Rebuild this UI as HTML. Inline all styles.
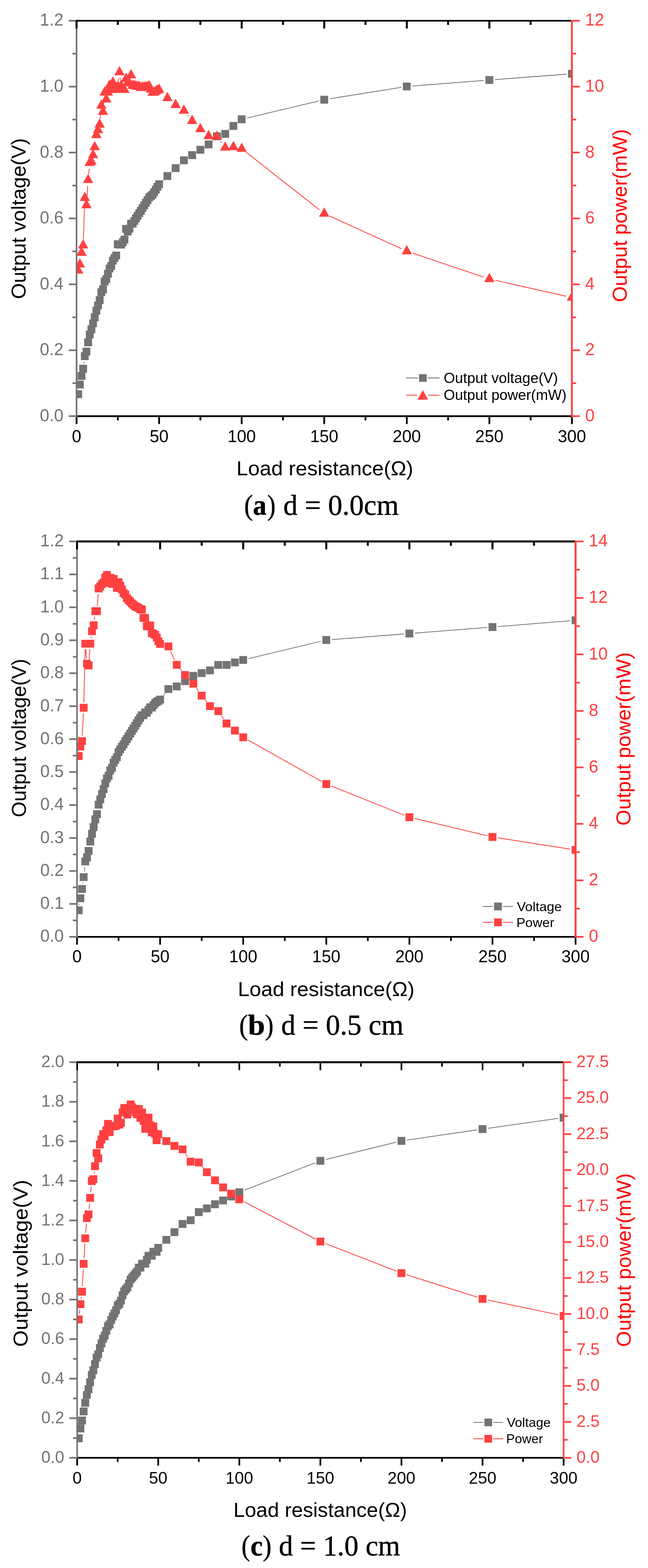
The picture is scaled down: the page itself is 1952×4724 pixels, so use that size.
<!DOCTYPE html>
<html><head><meta charset="utf-8"><title>Figure</title>
<style>html,body{margin:0;padding:0;background:#fff;}svg{display:block;}</style></head>
<body><svg width="1952" height="4724" viewBox="0 0 1952 4724" font-family="Liberation Sans, Arial, sans-serif">
<rect width="1952" height="4724" fill="#fff"/>
<clipPath id="clipa"><rect x="230.6" y="22.5" width="1492.2" height="1271.3"/></clipPath><g clip-path="url(#clipa)">
<path d="M252.7 1094.5L253.3 1089.5M352.4 753.5L352.6 752.2M491.0 543.4L492.4 542.0M516.1 518.9L517.1 517.9M541.1 495.1L541.9 494.3M640.3 423.5L641.6 422.2M690.1 391.9L691.3 390.8M744.1 355.6L960.6 304.2M993.0 297.7L1209.1 263.1M1241.8 259.2L1457.7 242.3M1490.6 239.8L1706.3 223.5" stroke="#737373" stroke-width="2.3" fill="none"/>
<path d="M223.8 1176.0h23.6v23.6h-23.6zM228.7 1146.7h23.6v23.6h-23.6zM233.7 1120.9h23.6v23.6h-23.6zM238.7 1099.0h23.6v23.6h-23.6zM243.7 1061.3h23.6v23.6h-23.6zM248.6 1047.4h23.6v23.6h-23.6zM253.6 1019.6h23.6v23.6h-23.6zM258.6 995.8h23.6v23.6h-23.6zM263.6 980.2h23.6v23.6h-23.6zM268.5 962.5h23.6v23.6h-23.6zM273.5 944.5h23.6v23.6h-23.6zM278.5 924.3h23.6v23.6h-23.6zM283.5 908.4h23.6v23.6h-23.6zM288.4 892.6h23.6v23.6h-23.6zM293.4 868.7h23.6v23.6h-23.6zM298.4 860.3h23.6v23.6h-23.6zM303.4 836.3h23.6v23.6h-23.6zM308.3 829.0h23.6v23.6h-23.6zM313.3 813.1h23.6v23.6h-23.6zM318.3 797.2h23.6v23.6h-23.6zM323.3 789.3h23.6v23.6h-23.6zM328.2 773.4h23.6v23.6h-23.6zM333.2 765.5h23.6v23.6h-23.6zM338.2 758.0h23.6v23.6h-23.6zM343.1 724.1h23.6v23.6h-23.6zM348.1 724.8h23.6v23.6h-23.6zM353.1 725.2h23.6v23.6h-23.6zM358.1 718.1h23.6v23.6h-23.6zM363.0 710.0h23.6v23.6h-23.6zM368.0 678.0h23.6v23.6h-23.6zM373.0 686.0h23.6v23.6h-23.6zM378.0 677.5h23.6v23.6h-23.6zM382.9 661.9h23.6v23.6h-23.6zM387.9 662.1h23.6v23.6h-23.6zM392.9 654.0h23.6v23.6h-23.6zM397.9 646.1h23.6v23.6h-23.6zM402.8 638.2h23.6v23.6h-23.6zM407.8 630.1h23.6v23.6h-23.6zM412.8 623.2h23.6v23.6h-23.6zM417.8 614.9h23.6v23.6h-23.6zM422.7 607.0h23.6v23.6h-23.6zM427.7 599.1h23.6v23.6h-23.6zM432.7 591.2h23.6v23.6h-23.6zM437.7 583.0h23.6v23.6h-23.6zM442.6 578.8h23.6v23.6h-23.6zM447.6 574.9h23.6v23.6h-23.6zM452.6 567.5h23.6v23.6h-23.6zM457.6 559.3h23.6v23.6h-23.6zM462.5 551.0h23.6v23.6h-23.6zM467.5 543.2h23.6v23.6h-23.6zM492.4 518.6h23.6v23.6h-23.6zM517.2 494.7h23.6v23.6h-23.6zM542.1 471.2h23.6v23.6h-23.6zM567.0 455.6h23.6v23.6h-23.6zM591.9 439.5h23.6v23.6h-23.6zM616.7 423.3h23.6v23.6h-23.6zM641.6 398.9h23.6v23.6h-23.6zM666.5 391.6h23.6v23.6h-23.6zM691.3 367.6h23.6v23.6h-23.6zM716.2 347.6h23.6v23.6h-23.6zM964.9 288.6h23.6v23.6h-23.6zM1213.6 248.7h23.6v23.6h-23.6zM1462.3 229.2h23.6v23.6h-23.6zM1711.0 210.4h23.6v23.6h-23.6z" fill="#737373"/>
<path d="M251.1 721.2L254.8 614.1M261.6 600.2L264.2 560.2M267.1 524.3L268.7 508.5M301.8 357.3L303.6 336.1M311.7 318.6L313.6 296.3M357.0 243.2L357.9 235.2M362.1 235.2L362.7 239.4M565.2 347.2L567.5 350.0M664.2 425.7L667.4 430.0M742.2 459.2L962.5 632.2M993.1 650.8L1209.0 749.4M1242.5 762.6L1457.0 834.8M1491.7 844.4L1705.2 892.5" stroke="#FF4040" stroke-width="2.4" fill="none"/>
<path d="M235.6 796.3L251.2 824.2L220.0 824.2zM240.5 777.8L256.1 805.7L224.9 805.7zM245.5 742.8L261.1 770.7L229.9 770.7zM250.5 720.7L266.1 748.6L234.9 748.6zM255.5 577.6L271.1 605.5L239.9 605.5zM260.4 599.7L276.0 627.6L244.8 627.6zM265.4 523.7L281.0 551.6L249.8 551.6zM270.4 472.1L286.0 500.0L254.8 500.0zM275.4 468.3L291.0 496.2L259.8 496.2zM280.3 448.6L295.9 476.5L264.7 476.5zM285.3 424.7L300.9 452.6L269.7 452.6zM290.3 388.2L305.9 416.1L274.7 416.1zM295.3 373.2L310.9 401.1L279.7 401.1zM300.2 356.7L315.8 384.6L284.6 384.6zM305.2 299.6L320.8 327.5L289.6 327.5zM310.2 318.0L325.8 345.9L294.6 345.9zM315.2 259.9L330.8 287.8L299.6 287.8zM320.1 280.8L335.7 308.7L304.5 308.7zM325.1 260.2L340.7 288.1L309.5 288.1zM330.1 239.1L345.7 267.0L314.5 267.0zM335.1 252.3L350.7 280.2L319.5 280.2zM340.0 230.0L355.6 257.9L324.4 257.9zM345.0 240.8L360.6 268.7L329.4 268.7zM350.0 252.2L365.6 280.1L334.4 280.1zM354.9 242.5L370.6 270.4L339.3 270.4zM359.9 198.9L375.5 226.8L344.3 226.8zM364.9 238.8L380.5 266.7L349.3 266.7zM369.9 248.0L385.5 275.9L354.3 275.9zM374.8 252.2L390.4 280.1L359.2 280.1zM379.8 218.7L395.4 246.6L364.2 246.6zM384.8 230.7L400.4 258.6L369.2 258.6zM389.8 232.3L405.4 260.2L374.2 260.2zM394.7 208.2L410.3 236.1L379.1 236.1zM399.7 239.1L415.3 267.0L384.1 267.0zM404.7 240.2L420.3 268.1L389.1 268.1zM409.7 241.6L425.3 269.5L394.1 269.5zM414.6 242.8L430.2 270.7L399.0 270.7zM419.6 242.7L435.2 270.6L404.0 270.6zM424.6 246.4L440.2 274.3L409.0 274.3zM429.6 244.9L445.2 272.8L414.0 272.8zM434.5 244.8L450.1 272.7L418.9 272.7zM439.5 244.0L455.1 271.9L423.9 271.9zM444.5 243.0L460.1 270.9L428.9 270.9zM449.5 241.1L465.1 269.0L433.9 269.0zM454.4 250.9L470.0 278.8L438.8 278.8zM459.4 260.7L475.0 288.6L443.8 288.6zM464.4 260.3L480.0 288.2L448.8 288.2zM469.4 257.2L485.0 285.1L453.8 285.1zM474.3 253.9L489.9 281.8L458.7 281.8zM479.3 251.5L494.9 279.4L463.7 279.4zM504.2 276.8L519.8 304.7L488.6 304.7zM529.0 297.6L544.6 325.5L513.4 325.5zM553.9 314.6L569.5 342.5L538.3 342.5zM578.8 345.5L594.4 373.4L563.2 373.4zM603.6 370.3L619.2 398.2L588.0 398.2zM628.5 391.3L644.1 419.2L612.9 419.2zM653.4 392.9L669.0 420.8L637.8 420.8zM678.3 425.9L693.9 453.8L662.7 453.8zM703.1 424.6L718.7 452.5L687.5 452.5zM728.0 429.6L743.6 457.5L712.4 457.5zM976.7 624.8L992.3 652.7L961.1 652.7zM1225.4 738.3L1241.0 766.2L1209.8 766.2zM1474.1 822.0L1489.7 849.9L1458.5 849.9zM1722.8 878.0L1738.4 905.9L1707.2 905.9z" fill="#FF4040"/>
</g>
<path d="M228.2 62.5H1722.8" stroke="#000" stroke-width="4.9"/>
<path d="M230.6 1253.8H1725.6" stroke="#000" stroke-width="5.3"/>
<path d="M230.6 65.0V1256.5" stroke="#737373" stroke-width="4.9"/>
<path d="M1722.8 60.0V1256.5" stroke="#FF4040" stroke-width="5.6"/>
<path d="M230.6 1256.5v21.0M354.9 1256.5v10.0M479.3 1256.5v21.0M603.6 1256.5v10.0M728.0 1256.5v21.0M852.4 1256.5v10.0M976.7 1256.5v21.0M1101.0 1256.5v10.0M1225.4 1256.5v21.0M1349.8 1256.5v10.0M1474.1 1256.5v21.0M1598.4 1256.5v10.0M1722.8 1256.5v21.0" stroke="#000" stroke-width="5.3"/>
<path d="M230.6 65.0v21.0M354.9 65.0v10.0M479.3 65.0v21.0M603.6 65.0v10.0M728.0 65.0v21.0M852.4 65.0v10.0M976.7 65.0v21.0M1101.0 65.0v10.0M1225.4 65.0v21.0M1349.8 65.0v10.0M1474.1 65.0v21.0M1598.4 65.0v10.0" stroke="#000" stroke-width="6"/>
<path d="M228.2 1253.8h-21.0M228.2 1154.5h-10.0M228.2 1055.2h-21.0M228.2 956.0h-10.0M228.2 856.7h-21.0M228.2 757.4h-10.0M228.2 658.1h-21.0M228.2 558.9h-10.0M228.2 459.6h-21.0M228.2 360.3h-10.0M228.2 261.0h-21.0M228.2 161.8h-10.0M228.2 62.5h-21.0" stroke="#737373" stroke-width="5"/>
<path d="M1725.6 1253.8h21.0M1725.6 1154.5h10.0M1725.6 1055.2h21.0M1725.6 956.0h10.0M1725.6 856.7h21.0M1725.6 757.4h10.0M1725.6 658.1h21.0M1725.6 558.9h10.0M1725.6 459.6h21.0M1725.6 360.3h10.0M1725.6 261.0h21.0M1725.6 161.8h10.0M1725.6 62.5h21.0" stroke="#FF4040" stroke-width="5"/>
<g font-size="51" fill="#000"><text x="230.6" y="1331.8" text-anchor="middle">0</text><text x="479.3" y="1331.8" text-anchor="middle">50</text><text x="728.0" y="1331.8" text-anchor="middle">100</text><text x="976.7" y="1331.8" text-anchor="middle">150</text><text x="1225.4" y="1331.8" text-anchor="middle">200</text><text x="1474.1" y="1331.8" text-anchor="middle">250</text><text x="1722.8" y="1331.8" text-anchor="middle">300</text></g>
<g font-size="51" fill="#737373"><text x="191.0" y="1268.7" text-anchor="end">0.0</text><text x="191.0" y="1070.2" text-anchor="end">0.2</text><text x="191.0" y="871.6" text-anchor="end">0.4</text><text x="191.0" y="673.0" text-anchor="end">0.6</text><text x="191.0" y="474.5" text-anchor="end">0.8</text><text x="191.0" y="275.9" text-anchor="end">1.0</text><text x="191.0" y="77.4" text-anchor="end">1.2</text></g>
<g font-size="51" fill="#FF4040"><text x="1762.8" y="1268.7">0</text><text x="1762.8" y="1070.2">2</text><text x="1762.8" y="871.6">4</text><text x="1762.8" y="673.0">6</text><text x="1762.8" y="474.5">8</text><text x="1762.8" y="275.9">10</text><text x="1762.8" y="77.4">12</text></g>
<text x="0" y="0" font-size="62" textLength="484.7" lengthAdjust="spacingAndGlyphs" fill="#000" transform="translate(76.8 900.9) rotate(-90)">Output voltage(V)</text>
<text x="0" y="0" font-size="62" textLength="521.6" lengthAdjust="spacingAndGlyphs" fill="#FF0000" transform="translate(1888.3 910.2) rotate(-90)">Output power(mW)</text>
<text x="712.3" y="1432.0" font-size="62" textLength="532.5" lengthAdjust="spacingAndGlyphs" fill="#000">Load resistance(Ω)</text>
<path d="M1223.3 1138.8H1259.2M1288.2 1138.8H1324.0" stroke="#737373" stroke-width="2.4"/>
<rect x="1262.2" y="1127.3" width="23.0" height="23.0" fill="#737373"/>
<path d="M1223.3 1190.5H1256.7M1290.7 1190.5H1324.0" stroke="#FF4040" stroke-width="2.4"/>
<path d="M1273.7 1175.5L1289.7 1204.0L1257.7 1204.0z" fill="#FF4040"/>
<text x="1336.4" y="1153.7" font-size="44" textLength="344.4" lengthAdjust="spacingAndGlyphs" fill="#000">Output voltage(V)</text>
<text x="1336.4" y="1205.4" font-size="44" textLength="370.3" lengthAdjust="spacingAndGlyphs" fill="#000">Output power(mW)</text>
<text x="735.5" y="1550.8" font-size="87" textLength="26.5" lengthAdjust="spacingAndGlyphs" fill="#000" font-family="Liberation Serif, 'Times New Roman', serif" stroke="#000" stroke-width="0.8">(</text>
<text x="762.1" y="1550.8" font-size="87" textLength="40.8" lengthAdjust="spacingAndGlyphs" fill="#000" font-family="Liberation Serif, 'Times New Roman', serif" stroke="#000" stroke-width="0.8" font-weight="bold">a</text>
<text x="805.1" y="1550.8" font-size="87" textLength="25.0" lengthAdjust="spacingAndGlyphs" fill="#000" font-family="Liberation Serif, 'Times New Roman', serif" stroke="#000" stroke-width="0.8">)</text>
<text x="853.4" y="1550.8" font-size="87" textLength="347.8" lengthAdjust="spacingAndGlyphs" fill="#000" font-family="Liberation Serif, 'Times New Roman', serif" stroke="#000" stroke-width="0.8">d = 0.0cm</text>
<clipPath id="clipb"><rect x="232.0" y="1591.2" width="1501.8" height="1271.3"/></clipPath><g clip-path="url(#clipb)">
<path d="M239.3 2726.1L239.7 2722.7M249.3 2661.9L249.7 2658.9M253.8 2626.1L255.3 2611.9M492.6 2094.6L497.1 2088.9M748.6 1984.4L966.9 1932.0M999.4 1926.9L1216.7 1910.0M1249.6 1907.5L1467.1 1890.4M1499.9 1887.8L1717.4 1870.1" stroke="#737373" stroke-width="2.3" fill="none"/>
<path d="M225.2 2730.7h23.6v23.6h-23.6zM230.2 2694.5h23.6v23.6h-23.6zM235.2 2666.5h23.6v23.6h-23.6zM240.2 2630.7h23.6v23.6h-23.6zM245.2 2583.7h23.6v23.6h-23.6zM250.2 2571.4h23.6v23.6h-23.6zM255.2 2551.8h23.6v23.6h-23.6zM260.2 2523.6h23.6v23.6h-23.6zM265.3 2500.1h23.6v23.6h-23.6zM270.3 2479.8h23.6v23.6h-23.6zM275.3 2456.8h23.6v23.6h-23.6zM280.3 2440.9h23.6v23.6h-23.6zM285.3 2412.6h23.6v23.6h-23.6zM290.3 2396.4h23.6v23.6h-23.6zM295.3 2380.4h23.6v23.6h-23.6zM300.3 2365.4h23.6v23.6h-23.6zM305.3 2348.5h23.6v23.6h-23.6zM310.3 2333.4h23.6v23.6h-23.6zM315.3 2325.6h23.6v23.6h-23.6zM320.3 2309.6h23.6v23.6h-23.6zM325.3 2301.5h23.6v23.6h-23.6zM330.3 2285.9h23.6v23.6h-23.6zM335.3 2277.6h23.6v23.6h-23.6zM340.3 2269.6h23.6v23.6h-23.6zM345.3 2254.0h23.6v23.6h-23.6zM350.4 2245.7h23.6v23.6h-23.6zM355.4 2238.0h23.6v23.6h-23.6zM360.4 2230.6h23.6v23.6h-23.6zM365.4 2221.6h23.6v23.6h-23.6zM370.4 2214.8h23.6v23.6h-23.6zM375.4 2206.6h23.6v23.6h-23.6zM380.4 2198.5h23.6v23.6h-23.6zM385.4 2190.6h23.6v23.6h-23.6zM390.4 2182.7h23.6v23.6h-23.6zM395.4 2175.0h23.6v23.6h-23.6zM400.4 2166.7h23.6v23.6h-23.6zM405.4 2158.6h23.6v23.6h-23.6zM410.4 2151.1h23.6v23.6h-23.6zM415.4 2143.0h23.6v23.6h-23.6zM420.4 2143.1h23.6v23.6h-23.6zM425.4 2135.1h23.6v23.6h-23.6zM430.5 2135.8h23.6v23.6h-23.6zM435.5 2127.1h23.6v23.6h-23.6zM440.5 2119.1h23.6v23.6h-23.6zM445.5 2119.9h23.6v23.6h-23.6zM450.5 2113.0h23.6v23.6h-23.6zM455.5 2106.8h23.6v23.6h-23.6zM460.5 2102.6h23.6v23.6h-23.6zM465.5 2099.8h23.6v23.6h-23.6zM470.5 2095.7h23.6v23.6h-23.6zM495.5 2064.2h23.6v23.6h-23.6zM520.6 2056.2h23.6v23.6h-23.6zM545.6 2040.3h23.6v23.6h-23.6zM570.6 2024.4h23.6v23.6h-23.6zM595.7 2015.9h23.6v23.6h-23.6zM620.7 2008.0h23.6v23.6h-23.6zM645.7 1991.5h23.6v23.6h-23.6zM670.7 1991.5h23.6v23.6h-23.6zM695.8 1984.0h23.6v23.6h-23.6zM720.8 1976.5h23.6v23.6h-23.6zM971.1 1916.3h23.6v23.6h-23.6zM1221.4 1897.0h23.6v23.6h-23.6zM1471.7 1877.3h23.6v23.6h-23.6zM1722.0 1857.0h23.6v23.6h-23.6z" fill="#737373"/>
<path d="M247.8 2216.3L251.2 2148.9M252.5 2115.9L256.6 1955.7M258.4 1955.7L260.7 1983.2M268.3 1988.3L270.8 1955.7M274.2 1922.9L274.9 1918.1M284.0 1867.5L285.1 1857.8M293.3 1824.9L295.9 1789.3M514.1 1962.5L525.6 1987.9M542.7 2015.8L547.0 2021.1M568.9 2045.8L570.9 2048.0M591.9 2073.3L598.0 2082.2M617.7 2108.7L622.2 2114.4M666.7 2156.1L673.3 2165.9M747.0 2229.5L968.5 2354.0M998.2 2368.2L1217.9 2456.0M1249.3 2465.9L1467.4 2517.8M1499.8 2524.2L1717.5 2558.2" stroke="#FF4040" stroke-width="2.4" fill="none"/>
<path d="M225.2 2266.1h23.6v23.6h-23.6zM230.2 2237.2h23.6v23.6h-23.6zM235.2 2221.0h23.6v23.6h-23.6zM240.2 2120.6h23.6v23.6h-23.6zM245.2 1927.4h23.6v23.6h-23.6zM250.2 1987.9h23.6v23.6h-23.6zM255.2 1993.0h23.6v23.6h-23.6zM260.2 1927.4h23.6v23.6h-23.6zM265.3 1890.0h23.6v23.6h-23.6zM270.3 1872.1h23.6v23.6h-23.6zM275.3 1829.6h23.6v23.6h-23.6zM280.3 1829.6h23.6v23.6h-23.6zM285.3 1761.1h23.6v23.6h-23.6zM290.3 1755.1h23.6v23.6h-23.6zM295.3 1748.0h23.6v23.6h-23.6zM300.3 1743.2h23.6v23.6h-23.6zM305.3 1728.3h23.6v23.6h-23.6zM310.3 1720.5h23.6v23.6h-23.6zM315.3 1744.1h23.6v23.6h-23.6zM320.3 1729.0h23.6v23.6h-23.6zM325.3 1747.1h23.6v23.6h-23.6zM330.3 1732.3h23.6v23.6h-23.6zM335.3 1746.1h23.6v23.6h-23.6zM340.3 1759.3h23.6v23.6h-23.6zM345.3 1742.3h23.6v23.6h-23.6zM350.4 1752.7h23.6v23.6h-23.6zM355.4 1763.7h23.6v23.6h-23.6zM360.4 1775.0h23.6v23.6h-23.6zM365.4 1779.2h23.6v23.6h-23.6zM370.4 1790.2h23.6v23.6h-23.6zM375.4 1795.9h23.6v23.6h-23.6zM380.4 1800.9h23.6v23.6h-23.6zM385.4 1806.2h23.6v23.6h-23.6zM390.4 1810.5h23.6v23.6h-23.6zM395.4 1815.2h23.6v23.6h-23.6zM400.4 1817.2h23.6v23.6h-23.6zM405.4 1819.4h23.6v23.6h-23.6zM410.4 1823.3h23.6v23.6h-23.6zM415.4 1824.6h23.6v23.6h-23.6zM420.4 1849.5h23.6v23.6h-23.6zM425.4 1850.4h23.6v23.6h-23.6zM430.5 1875.2h23.6v23.6h-23.6zM435.5 1873.0h23.6v23.6h-23.6zM440.5 1872.6h23.6v23.6h-23.6zM445.5 1895.8h23.6v23.6h-23.6zM450.5 1897.5h23.6v23.6h-23.6zM455.5 1901.0h23.6v23.6h-23.6zM460.5 1909.1h23.6v23.6h-23.6zM465.5 1920.5h23.6v23.6h-23.6zM470.5 1928.2h23.6v23.6h-23.6zM495.5 1935.7h23.6v23.6h-23.6zM520.6 1991.2h23.6v23.6h-23.6zM545.6 2022.1h23.6v23.6h-23.6zM570.6 2048.0h23.6v23.6h-23.6zM595.7 2083.9h23.6v23.6h-23.6zM620.7 2115.6h23.6v23.6h-23.6zM645.7 2130.6h23.6v23.6h-23.6zM670.7 2167.8h23.6v23.6h-23.6zM695.8 2189.5h23.6v23.6h-23.6zM720.8 2209.6h23.6v23.6h-23.6zM971.1 2350.3h23.6v23.6h-23.6zM1221.4 2450.3h23.6v23.6h-23.6zM1471.7 2509.8h23.6v23.6h-23.6zM1722.0 2548.9h23.6v23.6h-23.6z" fill="#FF4040"/>
</g>
<path d="M229.6 1631.2H1733.8" stroke="#000" stroke-width="6"/>
<path d="M232.0 2822.5H1736.8" stroke="#000" stroke-width="5.1"/>
<path d="M232.0 1634.2V2825.1" stroke="#737373" stroke-width="4.9"/>
<path d="M1733.8 1628.2V2825.1" stroke="#FF4040" stroke-width="5.9"/>
<path d="M232.0 2825.1v21.0M357.1 2825.1v10.0M482.3 2825.1v21.0M607.5 2825.1v10.0M732.6 2825.1v21.0M857.8 2825.1v10.0M982.9 2825.1v21.0M1108.0 2825.1v10.0M1233.2 2825.1v21.0M1358.3 2825.1v10.0M1483.5 2825.1v21.0M1608.7 2825.1v10.0M1733.8 2825.1v21.0" stroke="#000" stroke-width="5.1"/>
<path d="M232.0 1634.2v21.0M357.1 1634.2v10.0M482.3 1634.2v21.0M607.5 1634.2v10.0M732.6 1634.2v21.0M857.8 1634.2v10.0M982.9 1634.2v21.0M1108.0 1634.2v10.0M1233.2 1634.2v21.0M1358.3 1634.2v10.0M1483.5 1634.2v21.0M1608.7 1634.2v10.0" stroke="#000" stroke-width="6"/>
<path d="M229.6 2822.5h-21.0M229.6 2772.9h-10.0M229.6 2723.2h-21.0M229.6 2673.6h-10.0M229.6 2623.9h-21.0M229.6 2574.3h-10.0M229.6 2524.7h-21.0M229.6 2475.0h-10.0M229.6 2425.4h-21.0M229.6 2375.8h-10.0M229.6 2326.1h-21.0M229.6 2276.5h-10.0M229.6 2226.8h-21.0M229.6 2177.2h-10.0M229.6 2127.6h-21.0M229.6 2077.9h-10.0M229.6 2028.3h-21.0M229.6 1978.7h-10.0M229.6 1929.0h-21.0M229.6 1879.4h-10.0M229.6 1829.8h-21.0M229.6 1780.1h-10.0M229.6 1730.5h-21.0M229.6 1680.8h-10.0M229.6 1631.2h-21.0" stroke="#737373" stroke-width="5"/>
<path d="M1736.8 2822.5h21.0M1736.8 2737.4h10.0M1736.8 2652.3h21.0M1736.8 2567.2h10.0M1736.8 2482.1h21.0M1736.8 2397.0h10.0M1736.8 2311.9h21.0M1736.8 2226.8h10.0M1736.8 2141.8h21.0M1736.8 2056.7h10.0M1736.8 1971.6h21.0M1736.8 1886.5h10.0M1736.8 1801.4h21.0M1736.8 1716.3h10.0M1736.8 1631.2h21.0" stroke="#FF4040" stroke-width="5"/>
<g font-size="51" fill="#000"><text x="232.0" y="2899.3" text-anchor="middle">0</text><text x="482.3" y="2899.3" text-anchor="middle">50</text><text x="732.6" y="2899.3" text-anchor="middle">100</text><text x="982.9" y="2899.3" text-anchor="middle">150</text><text x="1233.2" y="2899.3" text-anchor="middle">200</text><text x="1483.5" y="2899.3" text-anchor="middle">250</text><text x="1733.8" y="2899.3" text-anchor="middle">300</text></g>
<g font-size="51" fill="#737373"><text x="192.2" y="2837.4" text-anchor="end">0.0</text><text x="192.2" y="2738.1" text-anchor="end">0.1</text><text x="192.2" y="2638.8" text-anchor="end">0.2</text><text x="192.2" y="2539.6" text-anchor="end">0.3</text><text x="192.2" y="2440.3" text-anchor="end">0.4</text><text x="192.2" y="2341.0" text-anchor="end">0.5</text><text x="192.2" y="2241.8" text-anchor="end">0.6</text><text x="192.2" y="2142.5" text-anchor="end">0.7</text><text x="192.2" y="2043.2" text-anchor="end">0.8</text><text x="192.2" y="1943.9" text-anchor="end">0.9</text><text x="192.2" y="1844.7" text-anchor="end">1.0</text><text x="192.2" y="1745.4" text-anchor="end">1.1</text><text x="192.2" y="1646.1" text-anchor="end">1.2</text></g>
<g font-size="51" fill="#FF4040"><text x="1773.8" y="2837.4">0</text><text x="1773.8" y="2667.2">2</text><text x="1773.8" y="2497.0">4</text><text x="1773.8" y="2326.8">6</text><text x="1773.8" y="2156.7">8</text><text x="1773.8" y="1986.5">10</text><text x="1773.8" y="1816.3">12</text><text x="1773.8" y="1646.1">14</text></g>
<text x="0" y="0" font-size="62" textLength="477.5" lengthAdjust="spacingAndGlyphs" fill="#000" transform="translate(77.6 2462.2) rotate(-90)">Output voltage(V)</text>
<text x="0" y="0" font-size="62" textLength="522.6" lengthAdjust="spacingAndGlyphs" fill="#FF0000" transform="translate(1899.3 2487.5) rotate(-90)">Output power(mW)</text>
<text x="716.6" y="3001.0" font-size="62" textLength="532.2" lengthAdjust="spacingAndGlyphs" fill="#000">Load resistance(Ω)</text>
<path d="M1454.3 2731.0H1485.2M1514.8 2731.0H1545.7" stroke="#737373" stroke-width="2.4"/>
<rect x="1488.2" y="2719.2" width="23.6" height="23.6" fill="#737373"/>
<path d="M1454.3 2778.7H1485.2M1514.8 2778.7H1545.7" stroke="#FF4040" stroke-width="2.4"/>
<rect x="1488.2" y="2766.9" width="23.6" height="23.6" fill="#FF4040"/>
<text x="1557.1" y="2744.8" font-size="39" textLength="135.1" lengthAdjust="spacingAndGlyphs" fill="#000">Voltage</text>
<text x="1555.5" y="2792.5" font-size="39" textLength="114.1" lengthAdjust="spacingAndGlyphs" fill="#000">Power</text>
<text x="720.5" y="3117.2" font-size="87" textLength="26.5" lengthAdjust="spacingAndGlyphs" fill="#000" font-family="Liberation Serif, 'Times New Roman', serif" stroke="#000" stroke-width="0.8">(</text>
<text x="746.7" y="3117.2" font-size="87" textLength="51.5" lengthAdjust="spacingAndGlyphs" fill="#000" font-family="Liberation Serif, 'Times New Roman', serif" stroke="#000" stroke-width="0.8" font-weight="bold">b</text>
<text x="798.3" y="3117.2" font-size="87" textLength="25.7" lengthAdjust="spacingAndGlyphs" fill="#000" font-family="Liberation Serif, 'Times New Roman', serif" stroke="#000" stroke-width="0.8">)</text>
<text x="847.1" y="3117.2" font-size="87" textLength="368.6" lengthAdjust="spacingAndGlyphs" fill="#000" font-family="Liberation Serif, 'Times New Roman', serif" stroke="#000" stroke-width="0.8">d = 0.5 cm</text>
<clipPath id="clipc"><rect x="232.4" y="3160.2" width="1465.4" height="1271.8"/></clipPath><g clip-path="url(#clipc)">
<path d="M488.4 3747.9L489.3 3746.9M537.1 3700.4L538.2 3699.3M586.0 3664.7L587.1 3663.6M736.3 3585.8L949.7 3503.2M981.1 3493.3L1193.3 3441.1M1225.7 3434.8L1437.2 3404.0M1469.9 3399.3L1681.5 3369.4" stroke="#737373" stroke-width="2.3" fill="none"/>
<path d="M225.5 4321.3h23.6v23.6h-23.6zM230.4 4291.8h23.6v23.6h-23.6zM235.3 4267.8h23.6v23.6h-23.6zM240.1 4240.5h23.6v23.6h-23.6zM245.0 4214.6h23.6v23.6h-23.6zM249.9 4190.7h23.6v23.6h-23.6zM254.8 4173.4h23.6v23.6h-23.6zM259.7 4152.6h23.6v23.6h-23.6zM264.6 4130.6h23.6v23.6h-23.6zM269.4 4116.5h23.6v23.6h-23.6zM274.3 4097.7h23.6v23.6h-23.6zM279.2 4078.3h23.6v23.6h-23.6zM284.1 4068.5h23.6v23.6h-23.6zM289.0 4049.7h23.6v23.6h-23.6zM293.9 4035.6h23.6v23.6h-23.6zM298.8 4021.5h23.6v23.6h-23.6zM303.6 4011.8h23.6v23.6h-23.6zM308.5 3997.7h23.6v23.6h-23.6zM313.4 3983.6h23.6v23.6h-23.6zM318.3 3978.3h23.6v23.6h-23.6zM323.2 3964.8h23.6v23.6h-23.6zM328.1 3954.6h23.6v23.6h-23.6zM332.9 3945.2h23.6v23.6h-23.6zM337.8 3935.4h23.6v23.6h-23.6zM342.7 3921.4h23.6v23.6h-23.6zM347.6 3916.6h23.6v23.6h-23.6zM352.5 3906.7h23.6v23.6h-23.6zM357.4 3890.7h23.6v23.6h-23.6zM362.3 3878.5h23.6v23.6h-23.6zM367.1 3872.8h23.6v23.6h-23.6zM372.0 3866.8h23.6v23.6h-23.6zM376.9 3854.9h23.6v23.6h-23.6zM381.8 3843.0h23.6v23.6h-23.6zM386.7 3837.0h23.6v23.6h-23.6zM391.6 3831.1h23.6v23.6h-23.6zM396.4 3825.1h23.6v23.6h-23.6zM401.3 3819.2h23.6v23.6h-23.6zM406.2 3807.2h23.6v23.6h-23.6zM411.1 3807.2h23.6v23.6h-23.6zM416.0 3795.3h23.6v23.6h-23.6zM420.9 3795.3h23.6v23.6h-23.6zM425.8 3795.3h23.6v23.6h-23.6zM430.6 3783.4h23.6v23.6h-23.6zM435.5 3771.5h23.6v23.6h-23.6zM440.4 3771.5h23.6v23.6h-23.6zM445.3 3771.5h23.6v23.6h-23.6zM450.2 3759.6h23.6v23.6h-23.6zM455.1 3759.6h23.6v23.6h-23.6zM459.9 3759.6h23.6v23.6h-23.6zM464.8 3747.7h23.6v23.6h-23.6zM489.3 3723.5h23.6v23.6h-23.6zM513.7 3700.3h23.6v23.6h-23.6zM538.1 3675.8h23.6v23.6h-23.6zM562.5 3664.5h23.6v23.6h-23.6zM587.0 3640.1h23.6v23.6h-23.6zM611.4 3628.8h23.6v23.6h-23.6zM635.8 3616.3h23.6v23.6h-23.6zM660.2 3604.9h23.6v23.6h-23.6zM684.6 3593.0h23.6v23.6h-23.6zM709.1 3579.9h23.6v23.6h-23.6zM953.3 3485.4h23.6v23.6h-23.6zM1197.5 3425.3h23.6v23.6h-23.6zM1441.8 3389.8h23.6v23.6h-23.6zM1686.0 3355.3h23.6v23.6h-23.6z" fill="#737373"/>
<path d="M239.0 3958.7L240.4 3945.6M244.3 3912.8L244.9 3907.8M248.0 3875.0L251.0 3824.3M253.0 3791.3L255.8 3747.1M258.1 3714.2L260.4 3686.4M268.2 3642.3L269.9 3625.3M273.1 3592.5L274.8 3574.6M283.3 3536.2L284.1 3529.9M288.1 3497.2L289.0 3490.0M297.8 3473.3L298.9 3464.5M559.0 3476.6L565.2 3485.9M609.3 3515.0L612.6 3519.0M634.9 3543.4L635.9 3544.4M735.5 3620.8L950.5 3732.9M980.5 3746.5L1194.0 3829.6M1225.1 3840.6L1437.8 3908.2M1469.7 3916.6L1681.7 3961.2" stroke="#FF4040" stroke-width="2.4" fill="none"/>
<path d="M225.5 3963.3h23.6v23.6h-23.6zM230.4 3917.3h23.6v23.6h-23.6zM235.3 3879.6h23.6v23.6h-23.6zM240.1 3796.0h23.6v23.6h-23.6zM245.0 3718.9h23.6v23.6h-23.6zM249.9 3658.2h23.6v23.6h-23.6zM254.8 3646.9h23.6v23.6h-23.6zM259.7 3597.1h23.6v23.6h-23.6zM264.6 3546.4h23.6v23.6h-23.6zM269.4 3540.7h23.6v23.6h-23.6zM274.3 3501.7h23.6v23.6h-23.6zM279.2 3461.9h23.6v23.6h-23.6zM284.1 3477.9h23.6v23.6h-23.6zM289.0 3436.3h23.6v23.6h-23.6zM293.9 3421.1h23.6v23.6h-23.6zM298.8 3405.1h23.6v23.6h-23.6zM303.6 3411.9h23.6v23.6h-23.6zM308.5 3393.8h23.6v23.6h-23.6zM313.4 3374.3h23.6v23.6h-23.6zM318.3 3399.1h23.6v23.6h-23.6zM323.2 3382.1h23.6v23.6h-23.6zM328.1 3380.4h23.6v23.6h-23.6zM332.9 3381.3h23.6v23.6h-23.6zM337.8 3379.7h23.6v23.6h-23.6zM342.7 3358.3h23.6v23.6h-23.6zM347.6 3376.3h23.6v23.6h-23.6zM352.5 3371.1h23.6v23.6h-23.6zM357.4 3339.7h23.6v23.6h-23.6zM362.3 3326.2h23.6v23.6h-23.6zM367.1 3336.6h23.6v23.6h-23.6zM372.0 3346.2h23.6v23.6h-23.6zM376.9 3331.4h23.6v23.6h-23.6zM381.8 3315.8h23.6v23.6h-23.6zM386.7 3324.5h23.6v23.6h-23.6zM391.6 3332.3h23.6v23.6h-23.6zM396.4 3338.8h23.6v23.6h-23.6zM401.3 3345.3h23.6v23.6h-23.6zM406.2 3329.2h23.6v23.6h-23.6zM411.1 3356.1h23.6v23.6h-23.6zM416.0 3339.7h23.6v23.6h-23.6zM420.9 3365.2h23.6v23.6h-23.6zM425.8 3389.1h23.6v23.6h-23.6zM430.6 3372.2h23.6v23.6h-23.6zM435.5 3355.3h23.6v23.6h-23.6zM440.4 3378.2h23.6v23.6h-23.6zM445.3 3399.9h23.6v23.6h-23.6zM450.2 3381.7h23.6v23.6h-23.6zM455.1 3403.8h23.6v23.6h-23.6zM459.9 3423.3h23.6v23.6h-23.6zM464.8 3405.5h23.6v23.6h-23.6zM489.3 3425.9h23.6v23.6h-23.6zM513.7 3440.6h23.6v23.6h-23.6zM538.1 3451.0h23.6v23.6h-23.6zM562.5 3487.9h23.6v23.6h-23.6zM587.0 3490.5h23.6v23.6h-23.6zM611.4 3519.9h23.6v23.6h-23.6zM635.8 3544.2h23.6v23.6h-23.6zM660.2 3565.4h23.6v23.6h-23.6zM684.6 3584.5h23.6v23.6h-23.6zM709.1 3601.4h23.6v23.6h-23.6zM953.3 3728.7h23.6v23.6h-23.6zM1197.5 3823.8h23.6v23.6h-23.6zM1441.8 3901.4h23.6v23.6h-23.6zM1686.0 3952.8h23.6v23.6h-23.6z" fill="#FF4040"/>
</g>
<path d="M230.1 3200.2H1697.8" stroke="#000" stroke-width="6"/>
<path d="M232.4 4392.0H1700.2" stroke="#000" stroke-width="5.1"/>
<path d="M232.4 3203.2V4394.6" stroke="#737373" stroke-width="4.7"/>
<path d="M1697.8 3197.2V4394.6" stroke="#FF4040" stroke-width="4.8"/>
<path d="M232.4 4394.6v21.0M354.5 4394.6v10.0M476.6 4394.6v21.0M598.8 4394.6v10.0M720.9 4394.6v21.0M843.0 4394.6v10.0M965.1 4394.6v21.0M1087.2 4394.6v10.0M1209.3 4394.6v21.0M1331.4 4394.6v10.0M1453.6 4394.6v21.0M1575.7 4394.6v10.0M1697.8 4394.6v21.0" stroke="#000" stroke-width="5.1"/>
<path d="M232.4 3203.2v21.0M354.5 3203.2v10.0M476.6 3203.2v21.0M598.8 3203.2v10.0M720.9 3203.2v21.0M843.0 3203.2v10.0M965.1 3203.2v21.0M1087.2 3203.2v10.0M1209.3 3203.2v21.0M1331.4 3203.2v10.0M1453.6 3203.2v21.0M1575.7 3203.2v10.0" stroke="#000" stroke-width="4.9"/>
<path d="M230.1 4392.0h-21.0M230.1 4332.4h-10.0M230.1 4272.8h-21.0M230.1 4213.2h-10.0M230.1 4153.6h-21.0M230.1 4094.1h-10.0M230.1 4034.5h-21.0M230.1 3974.9h-10.0M230.1 3915.3h-21.0M230.1 3855.7h-10.0M230.1 3796.1h-21.0M230.1 3736.5h-10.0M230.1 3676.9h-21.0M230.1 3617.3h-10.0M230.1 3557.7h-21.0M230.1 3498.1h-10.0M230.1 3438.6h-21.0M230.1 3379.0h-10.0M230.1 3319.4h-21.0M230.1 3259.8h-10.0M230.1 3200.2h-21.0" stroke="#737373" stroke-width="5"/>
<path d="M1700.2 4392.0h21.0M1700.2 4337.8h10.0M1700.2 4283.7h21.0M1700.2 4229.5h10.0M1700.2 4175.3h21.0M1700.2 4121.1h10.0M1700.2 4067.0h21.0M1700.2 4012.8h10.0M1700.2 3958.6h21.0M1700.2 3904.4h10.0M1700.2 3850.3h21.0M1700.2 3796.1h10.0M1700.2 3741.9h21.0M1700.2 3687.8h10.0M1700.2 3633.6h21.0M1700.2 3579.4h10.0M1700.2 3525.2h21.0M1700.2 3471.1h10.0M1700.2 3416.9h21.0M1700.2 3362.7h10.0M1700.2 3308.5h21.0M1700.2 3254.4h10.0M1700.2 3200.2h21.0" stroke="#FF4040" stroke-width="5"/>
<g font-size="50" fill="#000"><text x="232.4" y="4469.6" text-anchor="middle">0</text><text x="476.6" y="4469.6" text-anchor="middle">50</text><text x="720.9" y="4469.6" text-anchor="middle">100</text><text x="965.1" y="4469.6" text-anchor="middle">150</text><text x="1209.3" y="4469.6" text-anchor="middle">200</text><text x="1453.6" y="4469.6" text-anchor="middle">250</text><text x="1697.8" y="4469.6" text-anchor="middle">300</text></g>
<g font-size="50" fill="#737373"><text x="193.7" y="4406.9" text-anchor="end">0.0</text><text x="193.7" y="4287.7" text-anchor="end">0.2</text><text x="193.7" y="4168.5" text-anchor="end">0.4</text><text x="193.7" y="4049.4" text-anchor="end">0.6</text><text x="193.7" y="3930.2" text-anchor="end">0.8</text><text x="193.7" y="3811.0" text-anchor="end">1.0</text><text x="193.7" y="3691.8" text-anchor="end">1.2</text><text x="193.7" y="3572.6" text-anchor="end">1.4</text><text x="193.7" y="3453.5" text-anchor="end">1.6</text><text x="193.7" y="3334.3" text-anchor="end">1.8</text><text x="193.7" y="3215.1" text-anchor="end">2.0</text></g>
<g font-size="50" fill="#FF4040"><text x="1736.8" y="4406.9">0.0</text><text x="1736.8" y="4298.6">2.5</text><text x="1736.8" y="4190.2">5.0</text><text x="1736.8" y="4081.9">7.5</text><text x="1736.8" y="3973.5">10.0</text><text x="1736.8" y="3865.2">12.5</text><text x="1736.8" y="3756.8">15.0</text><text x="1736.8" y="3648.5">17.5</text><text x="1736.8" y="3540.1">20.0</text><text x="1736.8" y="3431.8">22.5</text><text x="1736.8" y="3323.4">25.0</text><text x="1736.8" y="3215.1">27.5</text></g>
<text x="0" y="0" font-size="62" textLength="503.3" lengthAdjust="spacingAndGlyphs" fill="#000" transform="translate(83.0 4057.7) rotate(-90)">Output voltage(V)</text>
<text x="0" y="0" font-size="62" textLength="523.4" lengthAdjust="spacingAndGlyphs" fill="#FF0000" transform="translate(1900.3 4057.9) rotate(-90)">Output power(mW)</text>
<text x="703.2" y="4569.8" font-size="61" textLength="523.0" lengthAdjust="spacingAndGlyphs" fill="#000">Load resistance(Ω)</text>
<path d="M1426.0 4285.4H1456.2M1485.3 4285.4H1515.5" stroke="#737373" stroke-width="2.4"/>
<rect x="1459.2" y="4273.8" width="23.2" height="23.2" fill="#737373"/>
<path d="M1426.0 4334.7H1456.2M1485.3 4334.7H1515.5" stroke="#FF4040" stroke-width="2.4"/>
<rect x="1459.2" y="4323.1" width="23.2" height="23.2" fill="#FF4040"/>
<text x="1526.8" y="4299.2" font-size="39" textLength="131.9" lengthAdjust="spacingAndGlyphs" fill="#000">Voltage</text>
<text x="1524.8" y="4347.9" font-size="39" textLength="110.7" lengthAdjust="spacingAndGlyphs" fill="#000">Power</text>
<text x="727.6" y="4686.3" font-size="87" textLength="25.6" lengthAdjust="spacingAndGlyphs" fill="#000" font-family="Liberation Serif, 'Times New Roman', serif" stroke="#000" stroke-width="0.8">(</text>
<text x="754.6" y="4686.3" font-size="87" textLength="36.7" lengthAdjust="spacingAndGlyphs" fill="#000" font-family="Liberation Serif, 'Times New Roman', serif" stroke="#000" stroke-width="0.8" font-weight="bold">c</text>
<text x="791.4" y="4686.3" font-size="87" textLength="26.3" lengthAdjust="spacingAndGlyphs" fill="#000" font-family="Liberation Serif, 'Times New Roman', serif" stroke="#000" stroke-width="0.8">)</text>
<text x="840.1" y="4686.3" font-size="87" textLength="365.2" lengthAdjust="spacingAndGlyphs" fill="#000" font-family="Liberation Serif, 'Times New Roman', serif" stroke="#000" stroke-width="0.8">d = 1.0 cm</text>
</svg></body></html>
